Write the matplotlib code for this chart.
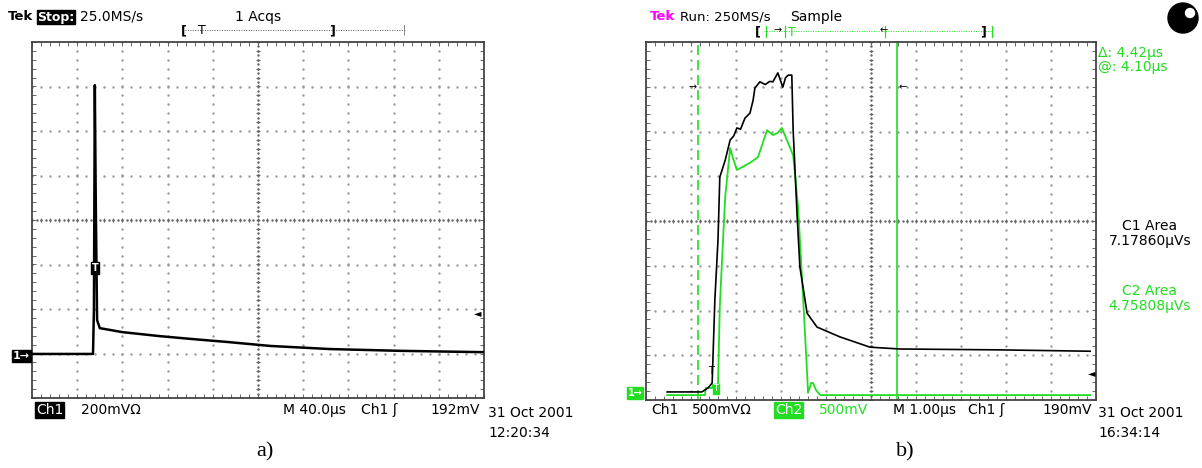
import numpy as np
import matplotlib
matplotlib.use('Agg')
import matplotlib.pyplot as plt
from matplotlib.patches import Ellipse

# 화면 단위(division) 값: x 0..10, y -4..4
# a) Ch1 파형
a_x = [0.0, 1.35, 1.37, 1.39, 1.41, 1.44, 1.50, 2.00, 2.83, 3.60, 4.31, 5.27, 6.59, 8.14, 9.98]
a_y = [-3.01, -3.01, -2.00, 3.03, 0.50, -2.25, -2.43, -2.52, -2.61, -2.68, -2.74, -2.83, -2.90, -2.94, -2.97]

# b) Ch1 (검정) 파형
b1_x = [0.47, 1.24, 1.38, 1.47, 1.53, 1.60, 1.64, 1.76, 1.87, 1.95, 2.02, 2.10, 2.20, 2.31, 2.38, 2.42,
        2.53, 2.65, 2.75, 2.82, 2.93, 3.04, 3.10, 3.16, 3.24, 3.27, 3.36, 3.42, 3.58, 3.80, 4.31, 4.98,
        5.64, 7.87, 9.87]
b1_y = [-3.82, -3.82, -3.73, -3.62, -1.77, -0.42, 0.98, 1.36, 1.81, 1.90, 2.08, 2.05, 2.30, 2.41, 2.70, 2.97,
        3.11, 3.05, 3.12, 3.11, 3.31, 2.99, 3.20, 3.26, 3.26, 2.03, 0.09, -1.03, -2.06, -2.37, -2.59, -2.82,
        -2.86, -2.88, -2.91]

# b) Ch2 (초록) 파형
b2_x = [0.47, 1.31, 1.33, 1.47, 1.49, 1.60, 1.64, 1.69, 1.76, 1.87, 1.93, 2.02, 2.31, 2.49, 2.58, 2.69,
        2.82, 2.93, 3.02, 3.13, 3.27, 3.38, 3.49, 3.58, 3.60, 3.67, 3.71, 3.78, 3.87, 9.87]
b2_y = [-3.89, -3.89, -3.73, -3.73, -3.66, -3.66, -1.92, -0.87, 0.54, 1.63, 1.41, 1.14, 1.30, 1.43, 1.70, 2.03,
        1.92, 1.97, 2.08, 1.81, 1.47, 0.31, -1.70, -3.40, -3.84, -3.62, -3.62, -3.78, -3.89, -3.89]

# 커서 위치 (division)
cursor_dashed = 1.16
cursor_solid = 5.58

GREEN = '#22dd22'
W, H = 1202, 468
FS = 10

fig = plt.figure(figsize=(W / 100, H / 100), dpi=100)


def fx(px):
    return px / W


def fy(py):
    return 1 - py / H


def txt(x, y, s, color='black', size=FS, **kw):
    fig.text(fx(x), fy(y), s, color=color, fontsize=size, family='DejaVu Sans',
             va='center', ha=kw.pop('ha', 'left'), **kw)


def graticule(ax):
    ax.set_xlim(0, 10)
    ax.set_ylim(-4, 4)
    ax.set_xticks([])
    ax.set_yticks([])
    for s in ax.spines.values():
        s.set_color('#444444')
        s.set_linewidth(1.3)
    fine = np.arange(0, 10.01, 0.2)
    fine_y = np.arange(-4, 4.01, 0.2)
    gc = '#999999'
    tc = '#666666'
    # 눈금선 점
    for i in range(1, 10):
        ax.plot(np.full(len(fine_y), i), fine_y, ls='none', marker='s', ms=0.7, color=gc, zorder=1)
    for j in range(-3, 4):
        ax.plot(fine, np.full(len(fine), j), ls='none', marker='s', ms=0.7, color=gc, zorder=1)
    # 중앙선
    ax.plot(np.arange(0, 10.01, 0.1), np.zeros(101), ls='none', marker='s', ms=0.7, color=tc, zorder=1)
    ax.plot(np.full(81, 5), np.arange(-4, 4.01, 0.1), ls='none', marker='s', ms=0.7, color=tc, zorder=1)
    ax.plot(fine, np.zeros(len(fine)), ls='none', marker='|', ms=3, mew=0.7, color=tc, zorder=1)
    ax.plot(np.full(len(fine_y), 5), fine_y, ls='none', marker='_', ms=3, mew=0.7, color=tc, zorder=1)
    # 테두리 눈금
    ax.plot(fine, np.full(len(fine), 3.95), ls='none', marker='|', ms=3, mew=0.7, color=tc, zorder=1)
    ax.plot(fine, np.full(len(fine), -3.95), ls='none', marker='|', ms=3, mew=0.7, color=tc, zorder=1)
    ax.plot(np.full(len(fine_y), 0.04), fine_y, ls='none', marker='_', ms=3, mew=0.7, color=tc, zorder=1)
    ax.plot(np.full(len(fine_y), 9.96), fine_y, ls='none', marker='_', ms=3, mew=0.7, color=tc, zorder=1)


# ---------------- a) ----------------
ax1 = fig.add_axes([fx(32), fy(398), fx(484) - fx(32), fy(42) - fy(398)])
graticule(ax1)
ax1.plot(a_x, a_y, color='black', lw=1.8, zorder=3)
ax1.text(1.39, -1.08, 'T', color='white', fontsize=7, ha='center', va='center', weight='bold',
         bbox=dict(facecolor='black', edgecolor='black', pad=0.6), zorder=4)
ax1.text(9.85, -2.09, '\u25c4', fontsize=7, ha='center', va='center', zorder=4)

txt(8, 17, 'Tek', size=9.5, weight='bold')
txt(37, 17, 'Stop:', size=9, color='white', weight='bold',
    bbox=dict(facecolor='black', edgecolor='black', pad=0.3))
txt(80, 17, '25.0MS/s')
txt(235, 17, '1 Acqs')
fig.add_artist(plt.Line2D([fx(185), fx(405)], [fy(30), fy(30)], ls=(0, (1, 1.5)), lw=0.7, color='#555555'))
txt(181, 31, '[', size=9, weight='bold')
txt(198, 31, 'T', size=9)
txt(329, 31, ']', size=9, weight='bold')
txt(403, 30, '|', size=7, color='#666666')

txt(36, 410, 'Ch1', color='white', bbox=dict(facecolor='black', edgecolor='black', pad=0.5))
txt(81, 410, '200mV\u03a9')
txt(283, 410, 'M 40.0\u00b5s')
txt(361, 410, 'Ch1 \u0283')
txt(430, 410, '192mV')
txt(488, 413, '31 Oct 2001')
txt(488, 433, '12:20:34')
txt(13, 356, '1\u2192', color='white', size=8, weight='bold',
    bbox=dict(facecolor='black', edgecolor='black', pad=0.4))
fig.text(fx(265), fy(452), 'a)', fontsize=16, family='Liberation Serif', ha='center', va='center')

# ---------------- b) ----------------
ax2 = fig.add_axes([fx(646), fy(400), fx(1096) - fx(646), fy(42) - fy(400)])
graticule(ax2)
ax2.axvline(cursor_dashed, color=GREEN, lw=1.2, ls=(0, (6, 3)), zorder=2)
ax2.axvline(cursor_solid, color=GREEN, lw=1.2, zorder=2)
ax2.plot(b2_x, b2_y, color=GREEN, lw=1.3, zorder=3)
ax2.plot(b1_x, b1_y, color='black', lw=1.2, zorder=4)
ax2.text(cursor_dashed - 0.12, 2.99, '\u2192', fontsize=7, ha='center', va='center', zorder=5)
ax2.text(cursor_solid + 0.12, 2.99, '\u2190', fontsize=7, ha='center', va='center', zorder=5)
ax2.text(1.45, -3.35, 'T', fontsize=7, ha='center', va='center', zorder=5)
ax2.text(1.55, -3.75, 'T', color='white', fontsize=6, ha='center', va='center',
         bbox=dict(facecolor=GREEN, edgecolor=GREEN, pad=0.4), zorder=5)
ax2.text(9.9, -3.4, '\u25c4', fontsize=7, ha='center', va='center', zorder=5)

txt(650, 17, 'Tek', color='#ff00ff', size=9.5, weight='bold')
txt(680, 17, 'Run: 250MS/s', size=9.5)
txt(790, 17, 'Sample')
fig.add_artist(plt.Line2D([fx(764), fx(992)], [fy(31), fy(31)], ls=(0, (1, 1.5)), lw=0.7, color=GREEN))
for px in [766, 785, 885, 992]:
    fig.add_artist(plt.Line2D([fx(px), fx(px)], [fy(26), fy(37)], lw=0.9, color=GREEN))
txt(755, 32, '[', size=9, weight='bold')
txt(773, 30, '\u2192', size=7)
txt(788, 32, 'T', color=GREEN, size=9)
txt(880, 30, '\u2190', size=7)
txt(980, 32, ']', size=9, weight='bold')
fig.add_artist(Ellipse((fx(1183), fy(18)), 30 / W, 30 / H, facecolor='black', edgecolor='black'))
fig.add_artist(Ellipse((fx(1190), fy(13)), 9 / W, 9 / H, facecolor='white', edgecolor='white'))

txt(1098, 53, '\u0394: 4.42\u00b5s', color=GREEN)
txt(1098, 67, '@: 4.10\u00b5s', color=GREEN)
txt(1150, 226, 'C1 Area', ha='center')
txt(1150, 241, '7.17860\u00b5Vs', ha='center')
txt(1150, 291, 'C2 Area', color=GREEN, ha='center')
txt(1150, 306, '4.75808\u00b5Vs', color=GREEN, ha='center')

txt(651, 410, 'Ch1')
txt(692, 410, '500mV\u03a9')
txt(775, 410, 'Ch2', color='white', bbox=dict(facecolor=GREEN, edgecolor=GREEN, pad=0.5))
txt(819, 410, '500mV', color=GREEN)
txt(893, 410, 'M 1.00\u00b5s')
txt(968, 410, 'Ch1 \u0283')
txt(1042, 410, '190mV')
txt(1098, 413, '31 Oct 2001')
txt(1098, 433, '16:34:14')
txt(628, 393, '1\u2192', color='white', size=7, weight='bold',
    bbox=dict(facecolor=GREEN, edgecolor=GREEN, pad=0.4))
fig.text(fx(905), fy(452), 'b)', fontsize=16, family='Liberation Serif', ha='center', va='center')

fig.savefig('out.png', dpi=100)
